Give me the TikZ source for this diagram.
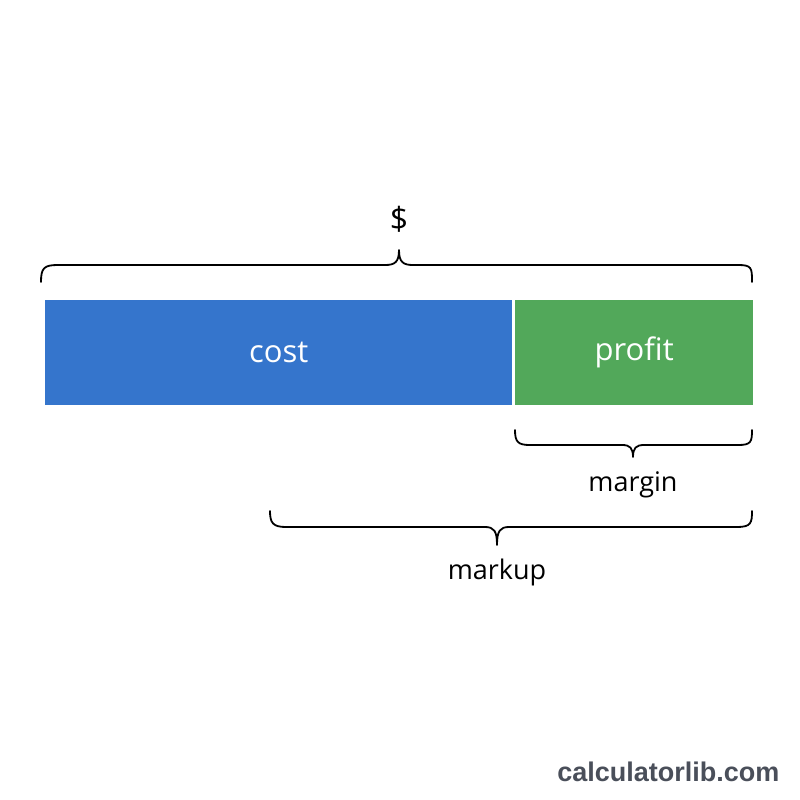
\documentclass[tikz,border=0pt]{standalone}
\usepackage{fontspec}
\setmainfont{Open Sans}
\newfontfamily\wmfont{Liberation Sans}
\definecolor{costblue}{HTML}{3575CC}
\definecolor{profitgreen}{HTML}{52A85A}
\definecolor{wmgray}{HTML}{4A4F5A}
\begin{document}
\begin{tikzpicture}[x=1pt,y=-1pt,
  bar/.style={draw=none,minimum height=105pt,inner sep=0pt,text=white,font=\fontsize{31}{34}\selectfont},
  lbl/.style={font=\fontsize{27}{30}\selectfont,text=black},
  brace/.style={draw=black,line width=1.8pt,line cap=round,line join=round}]
\fill[white] (0,0) rectangle (800,800);
\useasboundingbox (0,0) rectangle (800,800);
\node[bar,fill=costblue,minimum width=467pt,anchor=north west] (cost) at (45,300) {cost};
\node[bar,fill=profitgreen,minimum width=238pt,anchor=north west] (profit) at (515,300) {profit};
\node[font=\fontsize{32}{34}\selectfont] (dollar) at (399,219) {\$};
\node[lbl] (margin) at (633,485) {margin};
\node[lbl] (markup) at (497,572) {markup};
\node[font=\wmfont\bfseries\fontsize{27}{29}\selectfont,text=wmgray,anchor=east] (wm) at (783,772) {calculatorlib.com};
% top brace
\draw[brace] (41,282) .. controls (41,268) and (44,265) .. (58,265) -- (385,265)
  .. controls (395,265) and (399,262) .. (399,250)
  .. controls (399,262) and (403,265) .. (413,265) -- (738,265)
  .. controls (752,265) and (752,268) .. (752,282);
% margin brace
\draw[brace] (515,430) .. controls (515,442) and (518,445) .. (530,445) -- (622,445)
  .. controls (630,445) and (633,448) .. (633,457)
  .. controls (633,448) and (636,445) .. (644,445) -- (738,445)
  .. controls (751,445) and (752,442) .. (752,430);
% markup brace
\draw[brace] (270,511) .. controls (270,523) and (273,527) .. (286,527) -- (485,527)
  .. controls (494,527) and (497,531) .. (497,545)
  .. controls (497,531) and (500,527) .. (509,527) -- (737,527)
  .. controls (751,527) and (752,523) .. (752,511);
\end{tikzpicture}
\end{document}
